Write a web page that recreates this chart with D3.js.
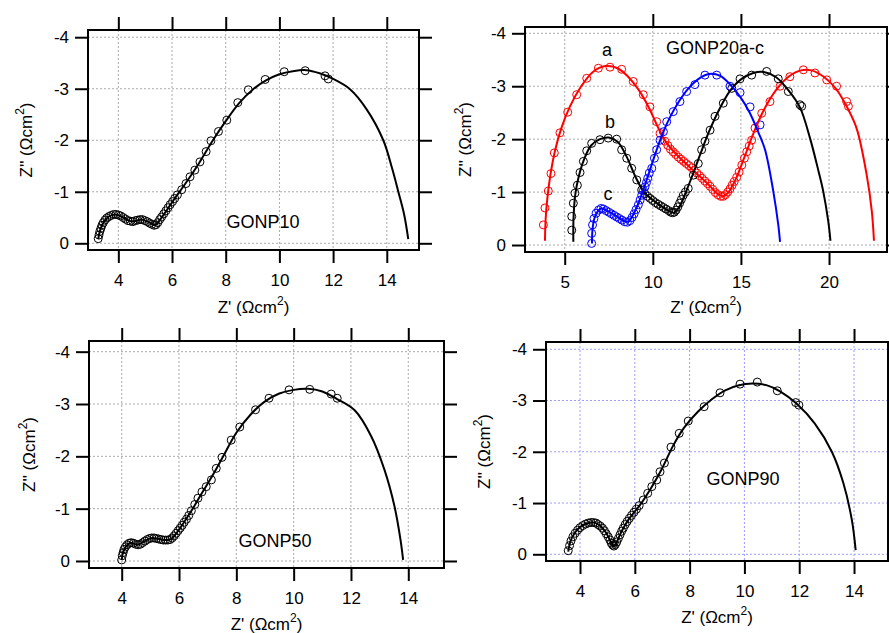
<!DOCTYPE html>
<html>
<head>
<meta charset="utf-8">
<script src="https://cdn.jsdelivr.net/npm/d3@7"></script>
<style>
  body { margin: 0; background: #fff; }
  svg { display: block; font-family: Arial, "Liberation Sans", sans-serif; }
</style>
</head>
<body>
<svg id="chart" width="889" height="633"></svg>
<script>
// ---- tick values / labels ----
const xTicksA = [4, 6, 8, 10, 12, 14];
const xLabelsA = ["4", "6", "8", "10", "12", "14"];
const xTicksB = [5, 10, 15, 20];
const xLabelsB = ["5", "10", "15", "20"];
const yTicks = [-4, -3, -2, -1, 0];
const yLabels = ["-4", "-3", "-2", "-1", "0"];

// ---- GONP10 : [Z', Z''] ----
const gonp10Pts = [[3.25,-0.09],[3.28,-0.16],[3.31,-0.23],[3.35,-0.29],[3.39,-0.35],[3.44,-0.40],[3.50,-0.45],[3.57,-0.49],
  [3.65,-0.52],[3.73,-0.54],[3.82,-0.56],[3.91,-0.56],[4.00,-0.55],[4.09,-0.53],[4.18,-0.50],[4.27,-0.47],[4.36,-0.44],
  [4.45,-0.43],[4.54,-0.42],[4.63,-0.44],[4.72,-0.45],[4.81,-0.46],[4.90,-0.46],[4.99,-0.44],[5.08,-0.42],[5.17,-0.39],
  [5.25,-0.37],[5.33,-0.35],[5.40,-0.36],[5.47,-0.40],[5.54,-0.46],[5.61,-0.51],[5.69,-0.57],[5.77,-0.63],[5.85,-0.69],
  [5.93,-0.75],[6.02,-0.81],[6.10,-0.87],[6.20,-0.94],[6.36,-1.04],[6.52,-1.16],[6.67,-1.29],[6.85,-1.42],[7.04,-1.58],
  [7.27,-1.78],[7.45,-1.99],[7.73,-2.17],[8.04,-2.39],[8.45,-2.73],[8.84,-2.98],[9.47,-3.18],[10.18,-3.33],[10.96,-3.35],
  [11.70,-3.25],[11.82,-3.19]];
const gonp10Fit = [[3.25,-0.08],[3.32,-0.25],[3.45,-0.41],[3.65,-0.52],[3.9,-0.56],[4.15,-0.51],[4.45,-0.43],[4.6,-0.43],
  [4.85,-0.46],[5.1,-0.42],[5.37,-0.35],[5.5,-0.42],[5.8,-0.64],[6.1,-0.87],[6.5,-1.16],[7.0,-1.55],[7.5,-1.98],[8.0,-2.37],
  [8.5,-2.72],[9.0,-2.98],[9.5,-3.16],[10.0,-3.28],[10.5,-3.34],[11.0,-3.36],[11.5,-3.30],[12.0,-3.19],[12.63,-2.99],
  [13.25,-2.6],[13.87,-2.0],[14.2,-1.45],[14.43,-1.0],[14.65,-0.55],[14.8,-0.08]];

// ---- GONP20 a (red), b (black), c (blue) ----
const gonp20aPts = [[3.79,-0.38],[3.88,-0.70],[4.07,-1.02],[4.22,-1.35],[4.41,-1.74],[4.73,-2.12],[5.17,-2.51],[5.68,-2.84],
  [6.25,-3.15],[6.91,-3.34],[7.57,-3.36],[8.23,-3.32],[8.89,-3.09],[9.46,-2.84],[9.84,-2.61],[10.22,-2.33],[10.41,-2.11],
  [10.69,-1.96],[10.85,-1.88],[11.0,-1.81],[11.15,-1.76],[11.3,-1.71],[11.45,-1.66],[11.6,-1.62],[11.75,-1.58],[11.9,-1.54],
  [12.05,-1.50],[12.2,-1.46],[12.35,-1.41],[12.5,-1.36],[12.65,-1.31],[12.8,-1.26],[12.95,-1.21],[13.1,-1.16],[13.25,-1.11],
  [13.4,-1.05],[13.55,-0.99],[13.7,-0.95],[13.85,-0.92],[14.0,-0.92],[14.12,-0.95],[14.25,-1.0],[14.38,-1.06],[14.5,-1.13],
  [14.62,-1.20],[14.76,-1.28],[14.9,-1.38],[15.05,-1.51],[15.2,-1.64],[15.33,-1.76],[15.47,-1.87],[15.61,-1.98],[15.80,-2.21],
  [16.18,-2.49],[16.65,-2.71],[17.22,-3.00],[17.78,-3.18],[18.54,-3.31],[19.20,-3.25],[19.87,-3.12],[20.43,-3.00],
  [21.0,-2.71],[21.1,-2.62]];
const gonp20aFit = [[3.88,-0.08],[3.92,-0.5],[4.02,-0.9],[4.2,-1.35],[4.45,-1.78],[4.8,-2.2],[5.3,-2.62],[5.9,-2.98],
  [6.6,-3.27],[7.3,-3.38],[8.0,-3.34],[8.6,-3.18],[9.2,-2.93],[9.8,-2.58],[10.3,-2.22],[10.8,-1.92],[11.4,-1.69],[12.0,-1.5],
  [12.6,-1.32],[13.2,-1.13],[13.7,-0.96],[14.0,-0.92],[14.3,-1.0],[14.7,-1.24],[15.2,-1.66],[15.7,-2.1],[16.3,-2.55],
  [17.0,-2.93],[17.7,-3.18],[18.4,-3.3],[19.0,-3.3],[19.7,-3.18],[20.4,-2.95],[21.0,-2.62],[21.57,-2.2],[22.14,-1.32],
  [22.43,-0.63],[22.55,-0.08]];
const gonp20bPts = [[5.40,-0.28],[5.40,-0.54],[5.49,-0.79],[5.58,-0.98],[5.72,-1.13],[5.87,-1.37],[6.06,-1.58],[6.25,-1.78],
  [6.53,-1.92],[7.0,-1.99],[7.47,-2.02],[7.95,-2.0],[8.23,-1.80],[8.52,-1.64],[8.80,-1.45],[9.09,-1.23],[9.37,-1.04],
  [9.55,-0.97],[9.7,-0.92],[9.85,-0.88],[10.0,-0.84],[10.15,-0.80],[10.3,-0.77],[10.45,-0.74],[10.6,-0.71],[10.75,-0.68],
  [10.9,-0.65],[11.02,-0.62],[11.12,-0.61],[11.22,-0.62],[11.32,-0.66],[11.42,-0.72],[11.52,-0.79],[11.62,-0.86],
  [11.73,-0.94],[11.85,-1.0],[12.01,-1.07],[12.30,-1.32],[12.58,-1.54],[12.77,-1.80],[12.96,-1.96],[13.25,-2.17],
  [13.53,-2.43],[14.0,-2.68],[14.48,-2.96],[14.95,-3.14],[15.61,-3.21],[16.46,-3.28],[17.12,-3.14],[17.69,-2.90],
  [18.35,-2.65],[18.45,-2.62]];
const gonp20bFit = [[5.49,-0.06],[5.5,-0.5],[5.6,-0.95],[5.8,-1.3],[6.1,-1.62],[6.5,-1.88],[7.0,-2.0],[7.5,-2.03],[8.0,-1.95],
  [8.5,-1.68],[9.0,-1.3],[9.5,-1.0],[10.0,-0.85],[10.5,-0.73],[11.0,-0.63],[11.2,-0.61],[11.5,-0.72],[11.9,-1.02],
  [12.3,-1.36],[12.7,-1.72],[13.2,-2.15],[13.8,-2.58],[14.4,-2.92],[15.0,-3.13],[15.7,-3.25],[16.3,-3.27],[17.0,-3.17],
  [17.7,-2.92],[18.35,-2.6],[18.92,-2.02],[19.4,-1.4],[19.68,-1.0],[19.96,-0.44],[20.08,-0.08]];
const gonp20cPts = [[6.53,-0.03],[6.53,-0.22],[6.58,-0.38],[6.66,-0.50],[6.78,-0.60],[6.92,-0.66],[7.06,-0.69],[7.2,-0.68],
  [7.35,-0.65],[7.5,-0.62],[7.65,-0.59],[7.8,-0.56],[7.95,-0.53],[8.1,-0.50],[8.25,-0.47],[8.4,-0.44],[8.55,-0.43],
  [8.7,-0.46],[8.82,-0.52],[8.94,-0.59],[9.05,-0.67],[9.18,-0.76],[9.28,-0.85],[9.37,-0.94],[9.47,-1.03],[9.56,-1.10],
  [9.64,-1.18],[9.71,-1.26],[9.8,-1.36],[9.94,-1.45],[10.09,-1.64],[10.22,-1.80],[10.41,-1.98],[10.60,-2.14],[10.79,-2.33],
  [11.16,-2.52],[11.54,-2.71],[11.92,-2.90],[12.39,-3.03],[12.96,-3.21],[13.63,-3.21],[14.38,-3.0],[14.95,-2.88],
  [15.52,-2.61],[16.09,-2.27]];
const gonp20cFit = [[6.55,-0.03],[6.58,-0.3],[6.7,-0.52],[6.9,-0.65],[7.1,-0.69],[7.5,-0.63],[8.0,-0.53],[8.4,-0.45],
  [8.6,-0.44],[8.8,-0.52],[9.1,-0.72],[9.4,-0.98],[9.8,-1.38],[10.2,-1.78],[10.6,-2.14],[11.0,-2.43],[11.5,-2.72],
  [12.0,-2.95],[12.6,-3.14],[13.2,-3.23],[13.8,-3.2],[14.4,-3.03],[15.0,-2.78],[15.5,-2.5],[16.0,-2.12],[16.37,-1.8],
  [16.84,-1.01],[17.12,-0.38],[17.22,-0.06]];

// ---- GONP50 ----
const gonp50Pts = [[4.0,-0.02],[4.02,-0.10],[4.05,-0.16],[4.08,-0.22],[4.13,-0.27],[4.19,-0.31],[4.26,-0.34],[4.33,-0.35],
  [4.41,-0.34],[4.49,-0.32],[4.57,-0.31],[4.65,-0.32],[4.73,-0.35],[4.81,-0.38],[4.89,-0.41],[4.97,-0.43],[5.05,-0.44],
  [5.13,-0.44],[5.21,-0.43],[5.29,-0.42],[5.37,-0.41],[5.45,-0.40],[5.53,-0.40],[5.61,-0.40],[5.69,-0.41],[5.76,-0.44],
  [5.83,-0.48],[5.90,-0.53],[5.97,-0.58],[6.04,-0.63],[6.11,-0.68],[6.18,-0.74],[6.26,-0.80],[6.34,-0.87],[6.43,-0.96],
  [6.55,-1.08],[6.66,-1.2],[6.8,-1.32],[6.95,-1.42],[7.13,-1.55],[7.30,-1.77],[7.50,-1.98],[7.82,-2.31],[8.12,-2.56],
  [8.67,-2.89],[9.14,-3.11],[9.84,-3.27],[10.56,-3.28],[11.31,-3.19],[11.52,-3.11]];
const gonp50Fit = [[4.0,-0.02],[4.05,-0.17],[4.15,-0.28],[4.3,-0.35],[4.55,-0.31],[4.8,-0.38],[5.05,-0.44],[5.3,-0.42],
  [5.6,-0.4],[5.75,-0.43],[6.0,-0.6],[6.4,-0.93],[6.8,-1.3],[7.2,-1.66],[7.6,-2.06],[8.0,-2.45],[8.5,-2.8],[9.0,-3.05],
  [9.5,-3.2],[10.0,-3.27],[10.5,-3.29],[11.0,-3.24],[11.5,-3.1],[12.13,-2.88],[12.71,-2.38],[13.17,-1.74],[13.52,-1.04],
  [13.73,-0.4],[13.82,-0.02]];

// ---- GONP90 ----
const gonp90Pts = [[3.57,-0.07],[3.62,-0.17],[3.67,-0.26],[3.74,-0.34],[3.82,-0.41],[3.91,-0.47],[4.0,-0.52],[4.1,-0.56],
  [4.2,-0.59],[4.3,-0.61],[4.4,-0.62],[4.49,-0.62],[4.58,-0.61],[4.66,-0.58],[4.74,-0.55],[4.82,-0.51],[4.89,-0.46],
  [4.96,-0.40],[5.03,-0.34],[5.09,-0.28],[5.14,-0.22],[5.19,-0.18],[5.24,-0.16],[5.29,-0.19],[5.34,-0.24],[5.40,-0.31],
  [5.46,-0.38],[5.52,-0.45],[5.58,-0.51],[5.65,-0.58],[5.72,-0.64],[5.80,-0.70],[5.88,-0.76],[5.97,-0.82],[6.06,-0.88],
  [6.16,-0.95],[6.31,-1.06],[6.47,-1.19],[6.62,-1.32],[6.80,-1.45],[6.92,-1.61],[7.08,-1.78],[7.32,-2.09],[7.62,-2.36],
  [7.95,-2.60],[8.53,-2.88],[9.11,-3.15],[9.84,-3.32],[10.47,-3.36],[11.20,-3.19],[11.87,-2.96],[11.99,-2.91]];
const gonp90Fit = [[3.57,-0.05],[3.65,-0.25],[3.8,-0.41],[4.0,-0.53],[4.25,-0.6],[4.5,-0.62],[4.75,-0.55],[4.95,-0.42],
  [5.1,-0.27],[5.2,-0.17],[5.25,-0.15],[5.32,-0.21],[5.5,-0.43],[5.8,-0.7],[6.2,-0.97],[6.6,-1.3],[7.0,-1.68],[7.4,-2.12],
  [7.8,-2.47],[8.3,-2.78],[8.8,-3.02],[9.3,-3.2],[9.8,-3.3],[10.3,-3.33],[10.8,-3.3],[11.3,-3.18],[11.9,-2.94],
  [12.57,-2.55],[13.19,-2.0],[13.61,-1.39],[13.92,-0.67],[14.06,-0.08]];

const svg = d3.select("#chart");
const tickLen = 13;

const drawPanel = (p) => {
  const x = d3.scaleLinear().domain(p.xDomain).range([p.left, p.right]);
  const y = d3.scaleLinear().domain(p.yDomain).range([p.top, p.bottom]);
  const g = svg.append("g");

  // grid
  const grid = g.append("g")
    .attr("stroke", p.gridColor)
    .attr("stroke-width", 1)
    .attr("stroke-dasharray", "2 2");
  grid.selectAll(".gx").data(p.xTicks).join("line")
    .attr("x1", d => x(d)).attr("x2", d => x(d))
    .attr("y1", p.top).attr("y2", p.bottom);
  grid.selectAll(".gy").data(yTicks).join("line")
    .attr("x1", p.left).attr("x2", p.right)
    .attr("y1", d => y(d)).attr("y2", d => y(d));

  // axes on all four sides, ticks outward
  const axes = [
    [d3.axisBottom(x).tickValues(p.xTicks).tickFormat((d, i) => p.xLabels[i]).tickPadding(11), `translate(0,${p.bottom})`],
    [d3.axisTop(x).tickValues(p.xTicks).tickFormat(""), `translate(0,${p.top})`],
    [d3.axisLeft(y).tickValues(yTicks).tickFormat((d, i) => yLabels[i]).tickPadding(6), `translate(${p.left},0)`],
    [d3.axisRight(y).tickValues(yTicks).tickFormat(""), `translate(${p.right},0)`]
  ];
  axes.forEach(([ax, tr]) => {
    const a = g.append("g")
      .attr("transform", tr)
      .call(ax.tickSize(tickLen).tickSizeOuter(0));
    a.select(".domain").remove();
    a.selectAll(".tick line").attr("stroke", "#000").attr("stroke-width", 2);
    a.selectAll(".tick text")
      .attr("fill", "#000")
      .attr("font-size", 17)
      .attr("font-family", "Arial, 'Liberation Sans', sans-serif");
  });

  // frame
  g.append("rect")
    .attr("x", p.left).attr("y", p.top)
    .attr("width", p.right - p.left).attr("height", p.bottom - p.top)
    .attr("fill", "none").attr("stroke", "#000").attr("stroke-width", 2);

  // series
  const line = d3.line()
    .x(d => x(d[0])).y(d => y(d[1]))
    .curve(d3.curveCatmullRom.alpha(0.5));
  p.series.forEach(s => {
    g.append("g")
      .attr("fill", "none")
      .attr("stroke", s.color)
      .attr("stroke-width", 1)
      .selectAll("circle")
      .data(s.pts)
      .join("circle")
        .attr("cx", d => x(d[0]))
        .attr("cy", d => y(d[1]))
        .attr("r", 4);
  });
  p.series.forEach(s => {
    g.append("path")
      .datum(s.fit)
      .attr("fill", "none")
      .attr("stroke", s.color)
      .attr("stroke-width", 2)
      .attr("d", line);
  });

  // axis titles
  const xt = g.append("text")
    .attr("x", (p.left + p.right) / 2)
    .attr("y", p.xTitleY)
    .attr("text-anchor", "middle")
    .attr("font-size", 17);
  xt.append("tspan").text("Z' (Ωcm");
  xt.append("tspan").attr("dy", -8).attr("font-size", 12).text("2");
  xt.append("tspan").attr("dy", 8).text(")");

  const yt = g.append("text")
    .attr("transform", `translate(${p.yTitleX},${(p.top + p.bottom) / 2}) rotate(-90)`)
    .attr("text-anchor", "middle")
    .attr("font-size", 17);
  yt.append("tspan").text("Z'' (Ωcm");
  yt.append("tspan").attr("dy", -8).attr("font-size", 12).text("2");
  yt.append("tspan").attr("dy", 8).text(")");

  // annotations
  g.selectAll(".note").data(p.notes).join("text")
    .attr("x", d => d.x).attr("y", d => d.y)
    .attr("text-anchor", "middle")
    .attr("font-size", 18)
    .text(d => d.t);
};

drawPanel({
  left: 88, right: 419, top: 30, bottom: 250,
  xDomain: [2.87, 15.20], yDomain: [-4.14, 0.13],
  xTicks: xTicksA, xLabels: xLabelsA, gridColor: "#aaa",
  xTitleY: 313, yTitleX: 32,
  series: [{ pts: gonp10Pts, fit: gonp10Fit, color: "#000" }],
  notes: [{ t: "GONP10", x: 263, y: 228 }]
});

drawPanel({
  left: 525, right: 887, top: 27, bottom: 252,
  xDomain: [2.747, 23.29], yDomain: [-4.119, 0.132],
  xTicks: xTicksB, xLabels: xLabelsB, gridColor: "#aaa",
  xTitleY: 313, yTitleX: 471,
  series: [
    { pts: gonp20aPts, fit: gonp20aFit, color: "#ff0000" },
    { pts: gonp20bPts, fit: gonp20bFit, color: "#000" },
    { pts: gonp20cPts, fit: gonp20cFit, color: "#0000ff" }
  ],
  notes: [
    { t: "GONP20a-c", x: 715, y: 54 },
    { t: "a", x: 607, y: 56 },
    { t: "b", x: 610, y: 128 },
    { t: "c", x: 608, y: 200 }
  ]
});

drawPanel({
  left: 89, right: 444, top: 341, bottom: 568,
  xDomain: [2.859, 15.246], yDomain: [-4.204, 0.134],
  xTicks: xTicksA, xLabels: xLabelsA, gridColor: "#aaa",
  xTitleY: 630, yTitleX: 35,
  series: [{ pts: gonp50Pts, fit: gonp50Fit, color: "#000" }],
  notes: [{ t: "GONP50", x: 275, y: 547 }]
});

drawPanel({
  left: 546, right: 888, top: 342, bottom: 561,
  xDomain: [2.759, 15.24], yDomain: [-4.142, 0.131],
  xTicks: xTicksA, xLabels: xLabelsA, gridColor: "#9d9dff",
  xTitleY: 623, yTitleX: 490,
  series: [{ pts: gonp90Pts, fit: gonp90Fit, color: "#000" }],
  notes: [{ t: "GONP90", x: 743, y: 485 }]
});
</script>
</body>
</html>
